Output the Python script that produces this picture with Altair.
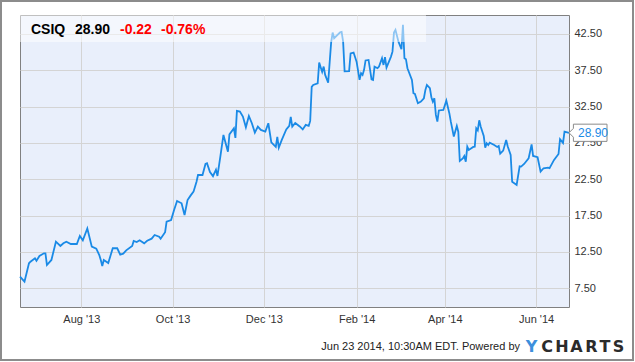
import altair as alt
import pandas as pd

# ---------------- data ----------------
START = "2013-06-21"
END = "2014-06-23"
day_offsets = [
    0, 3, 6, 7, 10, 11, 13, 16, 17, 18, 21, 24, 27, 29, 31, 34, 38, 40, 42, 45,
    48, 51, 53, 54, 55, 56, 59, 62, 65, 67, 69, 71, 75, 76, 78, 80, 83, 85, 88, 90,
    93, 94, 97, 98, 101, 103, 105, 108, 110, 112, 114, 116, 118, 119, 122, 124, 125, 127, 129, 131,
    132, 134, 136, 139, 140, 143, 144, 145, 147, 149, 151, 153, 155, 157, 159, 161, 164, 166, 168, 171,
    172, 173, 175, 178, 180, 181, 182, 184, 187, 189, 191, 193, 194, 195, 196, 199, 200, 202, 203, 204,
    206, 208, 209, 210, 214, 215, 216, 217, 220, 221, 223, 225, 227, 228, 229, 230, 231, 233, 235, 236,
    237, 239, 240, 242, 243, 244, 245, 248, 249, 250, 251, 253, 255, 256, 257, 258, 259, 262, 263, 264,
    266, 268, 270, 271, 272, 274, 275, 276, 277, 278, 279, 280, 283, 285, 287, 288, 290, 292, 293, 294,
    296, 297, 298, 299, 300, 303, 304, 305, 306, 307, 308, 310, 311, 312, 313, 314, 317, 319, 320, 321,
    323, 325, 326, 328, 329, 332, 334, 335, 337, 340, 342, 343, 346, 348, 350, 353, 354, 357, 360, 361,
    363, 364, 367,
]
prices = [
    9.10, 8.41, 10.94, 11.16, 11.63, 11.30, 11.95, 12.32, 12.32, 10.71, 11.40, 13.91, 13.32, 13.69, 13.91, 13.60, 13.60, 14.70, 14.11, 15.73,
    13.23, 12.95, 12.08, 11.40, 10.57, 11.40, 10.98, 13.01, 13.01, 12.13, 12.26, 12.73, 13.32, 14.01, 13.87, 14.11, 13.69, 14.05, 14.33, 14.84,
    14.60, 14.33, 15.22, 16.67, 16.90, 18.28, 19.52, 19.20, 17.59, 19.65, 20.25, 20.80, 22.17, 23.09, 23.09, 24.61, 24.70, 23.48, 22.93, 23.82,
    22.96, 25.71, 28.60, 26.30, 28.67, 29.52, 28.19, 31.90, 31.81, 31.12, 29.66, 31.21, 30.21, 28.92, 29.74, 29.29, 29.05, 30.21, 27.57, 26.95,
    28.32, 26.85, 27.91, 29.36, 29.84, 31.08, 29.74, 30.25, 29.77, 29.36, 29.98, 29.84, 30.53, 35.21, 35.48, 35.71, 38.55, 37.27, 38.00, 36.86,
    35.80, 41.33, 42.68, 41.91, 42.71, 42.78, 41.44, 37.34, 37.38, 39.82, 39.93, 38.69, 36.17, 37.09, 36.86, 37.55, 38.85, 38.92, 36.24, 36.17,
    38.00, 37.78, 38.00, 39.16, 38.23, 39.29, 37.86, 39.38, 40.06, 42.68, 43.05, 41.44, 40.39, 43.74, 39.16, 39.02, 37.78, 36.17, 34.34, 34.24,
    32.96, 33.18, 33.65, 34.79, 35.48, 35.03, 33.79, 33.18, 33.65, 31.35, 30.43, 31.97, 32.04, 33.32, 31.59, 30.43, 28.39, 29.84, 29.05, 25.02,
    25.37, 25.71, 24.92, 26.99, 26.54, 26.95, 26.99, 29.52, 29.22, 30.62, 29.74, 28.46, 26.85, 27.46, 27.22, 27.54, 27.22, 26.95, 27.09, 26.03,
    26.44, 27.91, 27.04, 25.85, 22.17, 21.72, 24.29, 24.24, 24.61, 25.37, 27.29, 25.71, 25.53, 23.55, 24.02, 24.10, 24.02, 25.16, 25.98, 28.01,
    27.50, 29.05, 28.90,
]
ticker = "CSIQ"
last_price = "28.90"
change = "-0.22"
change_pct = "-0.76%"
y_ticks = [7.5, 12.5, 17.5, 22.5, 27.5, 32.5, 37.5, 42.5]
x_tick_dates = ["2013-08-01", "2013-10-01", "2013-12-01", "2014-02-01", "2014-04-01", "2014-06-01"]
footer = "Jun 23 2014, 10:30AM EDT.  Powered by"
logo = "YCHARTS"

# ---------------- build ----------------
dates = pd.Timestamp(START) + pd.to_timedelta(day_offsets, unit="D")
df = pd.DataFrame({"date": dates, "price": prices})
last = df.tail(1)
one = pd.DataFrame({"k": [0]})


def dt(s):
    return alt.DateTime(year=int(s[:4]), month=int(s[5:7]), date=int(s[8:10]))


FONT = "Liberation Sans"
LINE = "#1a8ae6"

xenc = alt.X(
    "date:T",
    scale=alt.Scale(domain=[dt(START), dt(END)], nice=False),
    axis=alt.Axis(
        values=[dt(s) for s in x_tick_dates], format="%b '%y", title=None,
        ticks=False, domain=False, grid=True, gridColor="#d4d4d4",
        labelFont=FONT, labelFontSize=11, labelColor="#333333",
        labelPadding=6, labelFlush=False,
    ),
)
yenc = alt.Y(
    "price:Q",
    scale=alt.Scale(domain=[4.93, 45.1], nice=False, zero=False),
    axis=alt.Axis(
        orient="right", values=y_ticks, format=".2f", title=None,
        ticks=False, domain=False, grid=True, gridColor="#d4d4d4",
        labelFont=FONT, labelFontSize=11, labelColor="#333333",
        labelPadding=5, labelFlush=False,
    ),
)

line = alt.Chart(df).mark_line(color=LINE, strokeWidth=1.8).encode(x=xenc, y=yenc)

band = alt.Chart(one).mark_rect(color="white", opacity=0.5).encode(
    x=alt.value(0), x2=alt.value(406), y=alt.value(0), y2=alt.value(27)
)

tag_shape = "M0,0L0.22,-0.22L0.22,-0.43L1.9,-0.43L1.9,0.43L0.22,0.43L0.22,0.22Z"
tag = alt.Chart(last).mark_point(
    shape=tag_shape, size=1600, filled=True, fill="white", stroke="#8a8a8a",
    strokeWidth=1, opacity=1,
).encode(x="date:T", y="price:Q")
tag_text = alt.Chart(last).mark_text(
    align="left", baseline="middle", dx=9, dy=0.5, font=FONT, fontSize=12, color=LINE
).encode(x="date:T", y="price:Q", text=alt.Text("price:Q", format=".2f"))

header = []
for txt, xpos, col in [(ticker, 11, "#000000"), (last_price, 55, "#000000"),
                       (change, 100, "#ff0000"), (change_pct, 141, "#ff0000")]:
    header.append(
        alt.Chart(one).mark_text(
            align="left", baseline="alphabetic", font=FONT, fontSize=14,
            fontWeight="bold", color=col,
        ).encode(x=alt.value(xpos), y=alt.value(18.5), text=alt.value(txt))
    )

foot = alt.Chart(one).mark_text(
    align="right", baseline="middle", font=FONT, fontSize=11, color="#222222"
).encode(x=alt.value(500), y=alt.value(332), text=alt.value(footer))

logo_x = [511.5, 527, 542, 556.5, 571.5, 585, 598.5]
logo_layers = []
for ch, lx in zip(logo, logo_x):
    logo_layers.append(
        alt.Chart(one).mark_text(
            align="center", baseline="middle", font="DejaVu Sans", fontSize=16,
            fontWeight="bold", color=("#3d8fdc" if ch == "Y" else "#2b2b2b"),
        ).encode(x=alt.value(lx), y=alt.value(332), text=alt.value(ch))
    )

frame = alt.Chart(one).mark_rect(
    fillOpacity=0, stroke="#8c8c8c", strokeWidth=2
).encode(x=alt.value(-19), x2=alt.value(613), y=alt.value(-14), y2=alt.value(345))

chart = alt.layer(
    line, band, tag, tag_text, *header, foot, *logo_layers, frame
).properties(
    width=549, height=292,
    autosize=alt.AutoSizeParams(type="none"),
    padding={"left": 20, "top": 15, "right": 66, "bottom": 55},
    background="white",
).configure_view(
    fill="#e9effb", stroke="#808080", strokeWidth=1
)

chart.save("out.html", embed_options={"renderer": "svg", "actions": False})
